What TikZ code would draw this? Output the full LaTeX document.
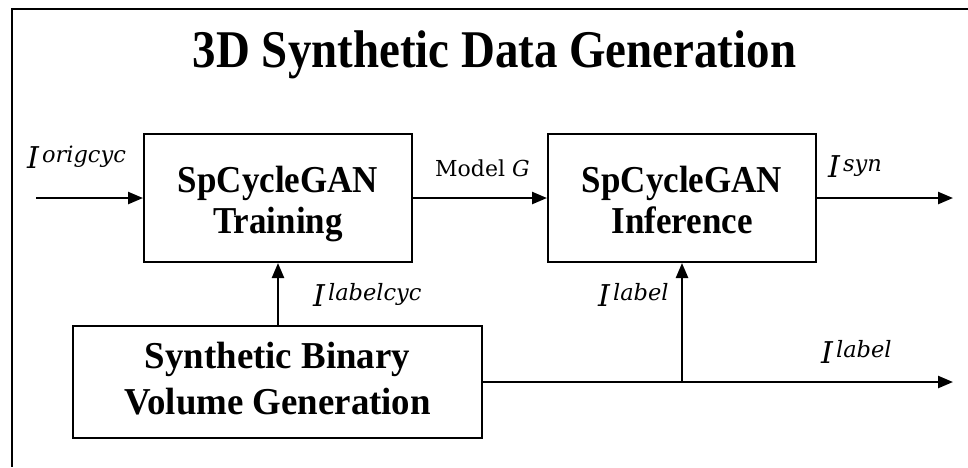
\documentclass[tikz,border=0pt]{standalone}
\usepackage{graphicx}
\usepackage{fontspec}
\setmainfont{Liberation Serif}
\newfontfamily\symfont{DejaVu Serif}
\usetikzlibrary{arrows.meta}
% horizontally condensed, centred block of lines
\newcommand{\condensed}[2]{\scalebox{#1}[1]{\begin{tabular}{@{}c@{}}#2\end{tabular}}}
% signal name: italic I with a superscript tag
\newcommand{\signal}[1]{{\symfont\itshape I\kern3pt\raisebox{6pt}{\fontsize{22.5}{22.5}\selectfont #1}}}
\begin{document}
\begin{tikzpicture}[x=1pt,y=-1pt,
  procbox/.style={draw, line width=2pt, minimum width=268pt, minimum height=128pt,
    align=center, inner sep=0pt, font=\bfseries\fontsize{38}{41}\selectfont},
  flow/.style={line width=2.4pt, -{Triangle[length=15pt,width=12pt]}},
  sym/.style={font=\fontsize{30}{30}\selectfont, inner sep=0pt, anchor=base west},
  ]
\useasboundingbox (0,0) rectangle (968,467);

% outer frame (top and left edges)
\draw[line width=2pt] (968,9) -- (12,9) -- (12,467);

% title
\node[font=\bfseries\fontsize{53}{53}\selectfont, anchor=base, inner sep=0pt]
  (title) at (494.5,67) {\scalebox{0.885}[1]{3D Synthetic Data Generation}};

% processing blocks
\node[procbox] (train) at (278,198)
  {\condensed{0.92}{\rule{0pt}{43pt}SpCycleGAN\\Training}};
\node[procbox] (infer) at (682,198)
  {\condensed{0.92}{\rule{0pt}{43pt}SpCycleGAN\\Inference}};
\node[procbox, minimum width=409pt, minimum height=112pt,
  font=\bfseries\fontsize{38}{46}\selectfont] (binvol) at (277.5,382)
  {\condensed{0.97}{Synthetic Binary\\Volume Generation}};

% free ends of the connectors
\coordinate (in) at (36,198);
\coordinate (synout) at (953,198);
\coordinate (lblout) at (953,382);
\coordinate (tap) at (infer.south |- binvol.east);

% connectors
\draw[flow] (in) -- (train.west);
\draw[flow] (train.east) -- (infer.west);
\draw[flow] (infer.east) -- (synout);
\draw[flow] (binvol.north -| train.south) -- (train.south);
\draw[flow] (binvol.east) -- (lblout);
\draw[flow] (tap) -- (infer.south);

% signal labels
\node[sym] (lorig) at (27,168) {\signal{origcyc}};
\node[font=\symfont\fontsize{22}{22}\selectfont, anchor=base west, inner sep=0pt]
  (lmodel) at (435,176) {Model \textit{G}};
\node[sym] (lsyn) at (828,177) {\signal{syn}};
\node[sym] (llabcyc) at (313,306) {\signal{labelcyc}};
\node[sym] (llabin) at (598,306) {\signal{label}};
\node[sym] (llabout) at (821,363) {\signal{label}};
\end{tikzpicture}
\end{document}
